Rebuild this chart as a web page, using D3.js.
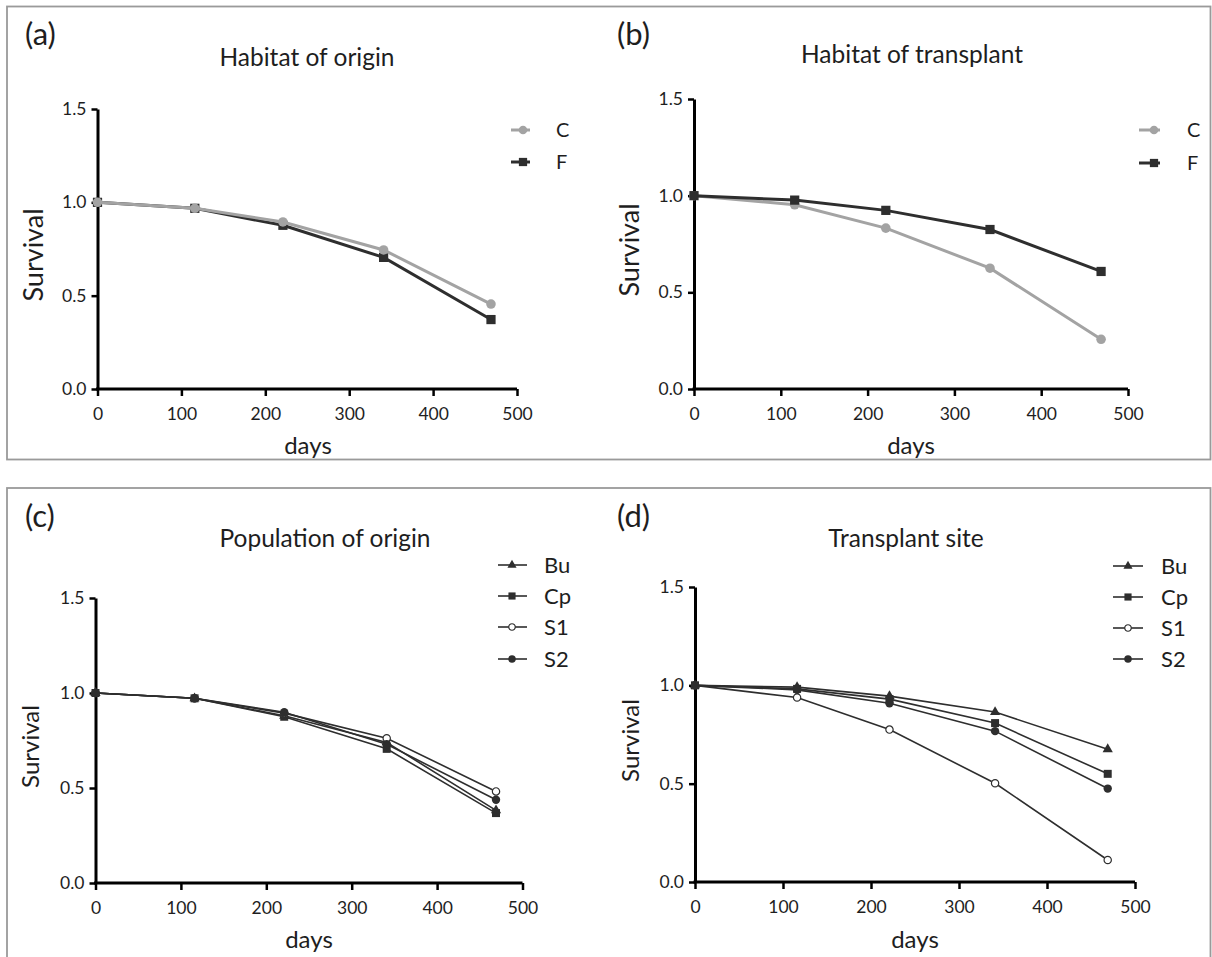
<!DOCTYPE html>
<html>
<head>
<meta charset="utf-8">
<script src="https://cdn.jsdelivr.net/npm/d3@7"></script>
<style>
  body { margin: 0; background: #fff; }
  svg text { font-family: Lato, "Open Sans", sans-serif; fill: #1e1e1e; }
</style>
</head>
<body>
<script>
// Chart basic vars
var width = 1212,
    height = 957;

// sampling days, same for every panel
var days = [0, 116, 221, 341, 469];
var xTicks = [0, 100, 200, 300, 400, 500];
var yTicks = [0, 0.5, 1.0, 1.5];

// (a) habitat of origin
var originC = [1.0, 0.968, 0.895, 0.745, 0.455];
var originF = [1.0, 0.968, 0.877, 0.705, 0.372];
// (b) habitat of transplant
var transC = [1.0, 0.953, 0.832, 0.625, 0.257];
var transF = [1.0, 0.977, 0.924, 0.825, 0.608];
// (c) population of origin
var popBu = [1.0, 0.972, 0.880, 0.740, 0.382];
var popCp = [1.0, 0.972, 0.875, 0.706, 0.368];
var popS1 = [1.0, 0.972, 0.894, 0.762, 0.482];
var popS2 = [1.0, 0.972, 0.899, 0.730, 0.438];
// (d) transplant site
var siteBu = [1.0, 0.991, 0.945, 0.864, 0.675];
var siteCp = [1.0, 0.982, 0.930, 0.808, 0.550];
var siteS1 = [1.0, 0.938, 0.775, 0.502, 0.112];
var siteS2 = [1.0, 0.977, 0.909, 0.767, 0.475];

var svg = d3.select("body").append("svg")
    .attr("width", width)
    .attr("height", height);

// panel frames
svg.append("rect").attr("x", 7).attr("y", 6.5).attr("width", 1203.5).attr("height", 453)
    .style("fill", "none").style("stroke", "#9a9a9a").style("stroke-width", 1.8);
svg.append("rect").attr("x", 7).attr("y", 488).attr("width", 1203.5).attr("height", 480)
    .style("fill", "none").style("stroke", "#9a9a9a").style("stroke-width", 1.8);

var grey = "#a3a3a3", dark = "#2e2e2e";

var panels = [
  { tag: "(a)", title: "Habitat of origin", left: 97.5, right: 517, top: 109, bottom: 389,
    tagX: 25, tagY: 45, titleX: 307, titleY: 66, yLabBase: 43, yLabSize: 27, daysX: 308, daysY: 454,
    lw: 3, legX: 511, legX2: 530, legMark: 523, legLab: 556, legY: [130, 162], legSize: 20,
    series: [
      { name: "F", values: originF, color: dark, shape: d3.symbolSquare, size: 85, fill: true },
      { name: "C", values: originC, color: grey, shape: d3.symbolCircle, size: 72, fill: true }
    ], legendOrder: ["C", "F"] },
  { tag: "(b)", title: "Habitat of transplant", left: 694, right: 1128, top: 99, bottom: 389,
    tagX: 617, tagY: 45, titleX: 912, titleY: 63, yLabBase: 639, yLabSize: 27, daysX: 911, daysY: 454,
    lw: 3, legX: 1139, legX2: 1160, legMark: 1154, legLab: 1187, legY: [130, 163], legSize: 20,
    series: [
      { name: "C", values: transC, color: grey, shape: d3.symbolCircle, size: 72, fill: true },
      { name: "F", values: transF, color: dark, shape: d3.symbolSquare, size: 85, fill: true }
    ], legendOrder: ["C", "F"] },
  { tag: "(c)", title: "Population of origin", left: 95.5, right: 522.5, top: 598, bottom: 883,
    tagX: 25, tagY: 527, titleX: 325, titleY: 547, yLabBase: 38.5, yLabSize: 24, daysX: 309, daysY: 948,
    lw: 1.6, legX: 498, legX2: 527, legMark: 512, legLab: 544, legY: [565, 596, 627, 659], legSize: 22,
    series: [
      { name: "Bu", values: popBu, color: dark, shape: d3.symbolTriangle, size: 45, fill: true },
      { name: "Cp", values: popCp, color: dark, shape: d3.symbolSquare, size: 64, fill: true },
      { name: "S1", values: popS1, color: dark, shape: d3.symbolCircle, size: 42, fill: false },
      { name: "S2", values: popS2, color: dark, shape: d3.symbolCircle, size: 55, fill: true }
    ], legendOrder: ["Bu", "Cp", "S1", "S2"] },
  { tag: "(d)", title: "Transplant site", left: 695, right: 1135, top: 587, bottom: 882,
    tagX: 617, tagY: 527, titleX: 906, titleY: 547, yLabBase: 638.5, yLabSize: 24, daysX: 915, daysY: 948,
    lw: 1.6, legX: 1113, legX2: 1143, legMark: 1128, legLab: 1161, legY: [566, 597, 628, 659], legSize: 22,
    series: [
      { name: "Bu", values: siteBu, color: dark, shape: d3.symbolTriangle, size: 45, fill: true },
      { name: "Cp", values: siteCp, color: dark, shape: d3.symbolSquare, size: 64, fill: true },
      { name: "S1", values: siteS1, color: dark, shape: d3.symbolCircle, size: 42, fill: false },
      { name: "S2", values: siteS2, color: dark, shape: d3.symbolCircle, size: 55, fill: true }
    ], legendOrder: ["Bu", "Cp", "S1", "S2"] }
];

function drawPanel(p) {
  var g = svg.append("g");

  // scales -> axes
  var x = d3.scaleLinear().domain([0, 500]).range([p.left, p.right]),
      y = d3.scaleLinear().domain([0, 1.5]).range([p.bottom, p.top]);

  var xAxis = d3.axisBottom(x).tickValues(xTicks).tickSize(7).tickSizeOuter(0).tickPadding(12),
      yAxis = d3.axisLeft(y).tickValues(yTicks).tickSize(6).tickSizeOuter(0).tickPadding(5)
        .tickFormat(d3.format(".1f"));

  var gx = g.append("g").attr("transform", "translate(0," + p.bottom + ")").call(xAxis);
  var gy = g.append("g").attr("transform", "translate(" + p.left + ",0)").call(yAxis);
  [gx, gy].forEach(function(a) {
    a.select(".domain").style("stroke", "#000").style("stroke-width", 3);
    a.selectAll(".tick line").style("stroke", "#000").style("stroke-width", 2.5);
    a.selectAll(".tick text").style("font-family", "Lato, sans-serif").style("font-size", "17.5px")
      .style("fill", "#1e1e1e");
  });
  // make the axes meet at the origin
  gx.select(".domain").attr("d", "M" + (p.left - 1.5) + ",0H" + p.right);

  // titles
  g.append("text").attr("x", p.tagX).attr("y", p.tagY).style("font-size", "31px").text(p.tag);
  g.append("text").attr("x", p.titleX).attr("y", p.titleY).attr("text-anchor", "middle")
    .style("font-size", "24.5px").text(p.title);
  g.append("text").attr("text-anchor", "middle")
    .attr("transform", "translate(" + p.yLabBase + "," + ((p.top + p.bottom) / 2 + 6) + ") rotate(-90)")
    .style("font-size", p.yLabSize + "px").text("Survival");
  g.append("text").attr("x", p.daysX).attr("y", p.daysY).attr("text-anchor", "middle")
    .style("font-size", "24px").text("days");

  var line = d3.line()
      .x(function(d, i) { return x(days[i]); })
      .y(function(d) { return y(d); });

  p.series.forEach(function(s) {
    g.append("path").datum(s.values)
      .attr("d", line)
      .style("fill", "none")
      .style("stroke", s.color)
      .style("stroke-width", p.lw);
    g.selectAll(null).data(s.values)
      .enter().append("path")
      .attr("transform", function(d, i) { return "translate(" + x(days[i]) + "," + y(d) + ")"; })
      .attr("d", d3.symbol().type(s.shape).size(s.size))
      .style("fill", s.fill ? s.color : "#fff")
      .style("stroke", s.color)
      .style("stroke-width", s.fill ? 0 : 1.2);
  });

  // legend
  p.legendOrder.forEach(function(name, i) {
    var s = p.series.filter(function(d) { return d.name === name; })[0];
    var ly = p.legY[i];
    g.append("line").attr("x1", p.legX).attr("x2", p.legX2).attr("y1", ly).attr("y2", ly)
      .style("stroke", s.color).style("stroke-width", p.lw);
    g.append("path").attr("transform", "translate(" + p.legMark + "," + ly + ")")
      .attr("d", d3.symbol().type(s.shape).size(s.size * 0.8))
      .style("fill", s.fill ? s.color : "#fff")
      .style("stroke", s.color)
      .style("stroke-width", s.fill ? 0 : 1.2);
    g.append("text").attr("x", p.legLab).attr("y", ly).attr("dy", "0.36em")
      .style("font-size", p.legSize + "px").text(name);
  });
}

panels.forEach(drawPanel);
</script>
</body>
</html>
